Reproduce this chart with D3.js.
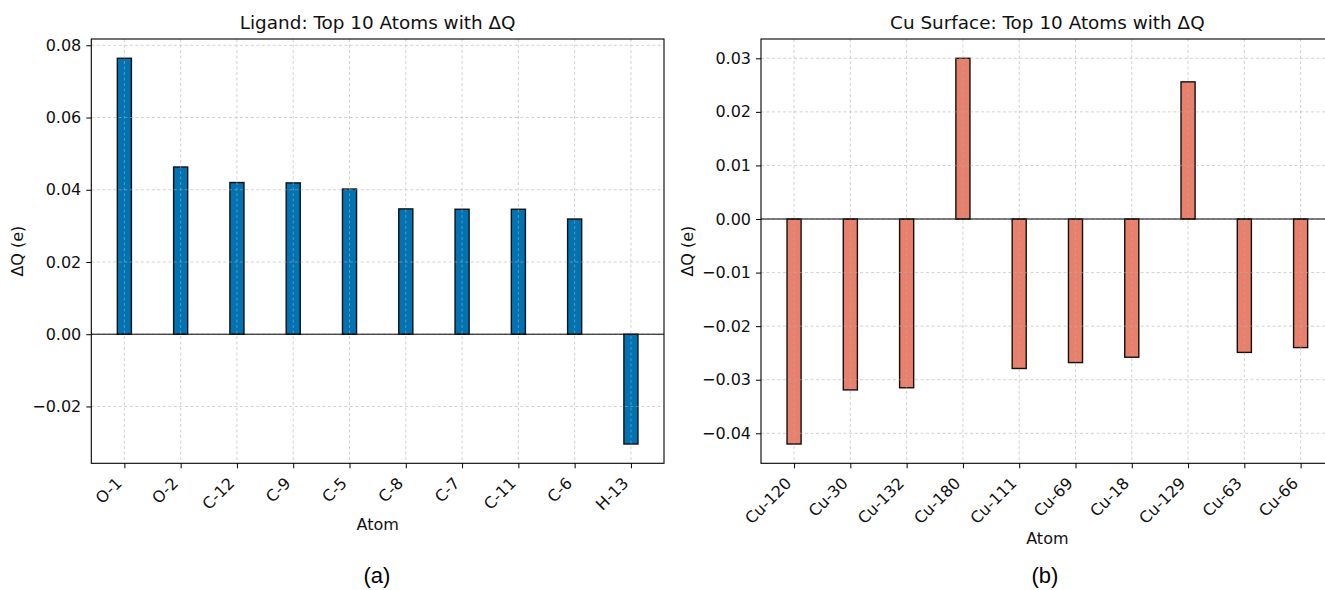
<!DOCTYPE html>
<html>
<head>
<meta charset="utf-8">
<script src="https://cdn.jsdelivr.net/npm/d3@7"></script>
<style>
  body { margin: 0; background: #fff; }
  svg { display: block; font-family: "DejaVu Sans", sans-serif; }
</style>
</head>
<body>
<svg id="chart" width="1325" height="590"></svg>
<script>
// Ligand panel data
var ligandAtoms = ["O-1", "O-2", "C-12", "C-9", "C-5", "C-8", "C-7", "C-11", "C-6", "H-13"];
var ligandDQ = [0.0764, 0.0463, 0.0420, 0.0419, 0.0402, 0.0347, 0.0346, 0.0346, 0.0319, -0.0304];
var ligandTicks = [-0.02, 0.00, 0.02, 0.04, 0.06, 0.08];

// Cu surface panel data
var cuAtoms = ["Cu-120", "Cu-30", "Cu-132", "Cu-180", "Cu-111", "Cu-69", "Cu-18", "Cu-129", "Cu-63", "Cu-66"];
var cuDQ = [-0.0420, -0.0319, -0.0315, 0.0300, -0.0279, -0.0268, -0.0258, 0.0256, -0.0249, -0.0240];
var cuTicks = [-0.04, -0.03, -0.02, -0.01, 0.00, 0.01, 0.02, 0.03];

var svg = d3.select("#chart");
var fmt = function(v) { return d3.format(".2f")(v).replace("-", "\u2212"); };

function drawPanel(opt) {
  var g = svg.append("g");
  var x0 = opt.left, x1 = opt.right, y0 = opt.top, y1 = opt.bottom;

  // x: point scale, padding as matplotlib bar margins (w=0.25, 5% margin)
  var x = d3.scalePoint().domain(opt.cats).range([x0, x1]).padding(0.5875);
  var step = x.step();
  var barW = step * 0.25;

  // y: 5% margin around data incl. zero
  var lo = Math.min(0, d3.min(opt.vals)), hi = Math.max(0, d3.max(opt.vals));
  var pad = (hi - lo) * 0.05;
  var y = d3.scaleLinear().domain([lo - pad, hi + pad]).range([y1, y0]);

  // bars
  g.selectAll("rect.bar")
    .data(opt.vals)
    .enter()
    .append("rect")
      .attr("class", "bar")
      .attr("x", function(d, i) { return x(opt.cats[i]) - barW / 2; })
      .attr("y", function(d) { return y(Math.max(0, d)); })
      .attr("width", barW)
      .attr("height", function(d) { return Math.abs(y(d) - y(0)); })
      .attr("fill", opt.color)
      .attr("stroke", "#111")
      .attr("stroke-width", 1.4);

  // grid (drawn over bars, faint)
  var grid = g.append("g").attr("stroke", "#b0b0b0").attr("stroke-width", 0.8)
    .attr("stroke-dasharray", "3,2.5").attr("opacity", 0.7);
  opt.cats.forEach(function(c) {
    grid.append("line").attr("x1", x(c)).attr("x2", x(c)).attr("y1", y0).attr("y2", y1);
  });
  opt.ticks.forEach(function(t) {
    grid.append("line").attr("x1", x0).attr("x2", x1).attr("y1", y(t)).attr("y2", y(t));
  });

  // zero line
  g.append("line").attr("x1", x0).attr("x2", x1).attr("y1", y(0)).attr("y2", y(0))
    .attr("stroke", "#000").attr("stroke-width", 1);

  // frame
  g.append("rect").attr("x", x0).attr("y", y0).attr("width", x1 - x0).attr("height", y1 - y0)
    .attr("fill", "none").attr("stroke", "#000").attr("stroke-width", 1.1);

  // y axis
  var yAxis = d3.axisLeft(y).tickValues(opt.ticks).tickFormat(fmt).tickSize(5).tickPadding(5);
  var ya = g.append("g").attr("transform", "translate(" + x0 + ",0)").call(yAxis);
  ya.select(".domain").remove();
  ya.selectAll("text").attr("font-size", 16).attr("fill", "#111").attr("font-family", "DejaVu Sans");
  ya.selectAll("line").attr("stroke", "#000");

  // x axis
  var xAxis = d3.axisBottom(x).tickSize(5).tickPadding(0);
  var xa = g.append("g").attr("transform", "translate(0," + y1 + ")").call(xAxis);
  xa.select(".domain").remove();
  xa.selectAll("line").attr("stroke", "#000");
  xa.selectAll("text")
    .attr("font-size", 16).attr("fill", "#111").attr("font-family", "DejaVu Sans")
    .attr("text-anchor", "end")
    .attr("dy", 0).attr("y", 0)
    .attr("transform", "translate(-2,21) rotate(-45)");

  // title and labels
  var cx = (x0 + x1) / 2;
  g.append("text").attr("x", cx).attr("y", 29).attr("text-anchor", "middle")
    .attr("font-size", 18.4).attr("fill", "#111").text(opt.title);
  g.append("text").attr("x", cx).attr("y", opt.xlabelY).attr("text-anchor", "middle")
    .attr("font-size", 16).attr("fill", "#111").text("Atom");
  g.append("text").attr("transform", "translate(" + opt.ylabelX + "," + ((y0 + y1) / 2) + ") rotate(-90)")
    .attr("text-anchor", "middle").attr("font-size", 16).attr("fill", "#111").text("\u0394Q (e)");
  g.append("text").attr("x", opt.capX).attr("y", 583).attr("text-anchor", "middle")
    .attr("font-family", "Liberation Sans, Arial, sans-serif").attr("font-size", 22)
    .attr("fill", "#000").text(opt.caption);
}

drawPanel({
  cats: ligandAtoms, vals: ligandDQ, ticks: ligandTicks,
  left: 91.3, right: 664, top: 39, bottom: 463.3,
  color: "#0173B2", title: "Ligand: Top 10 Atoms with \u0394Q",
  xlabelY: 530, ylabelX: 23, capX: 377, caption: "(a)"
});

drawPanel({
  cats: cuAtoms, vals: cuDQ, ticks: cuTicks,
  left: 761, right: 1333.7, top: 39, bottom: 463.3,
  color: "#E8806C", title: "Cu Surface: Top 10 Atoms with \u0394Q",
  xlabelY: 544, ylabelX: 693, capX: 1045, caption: "(b)"
});
</script>
</body>
</html>
